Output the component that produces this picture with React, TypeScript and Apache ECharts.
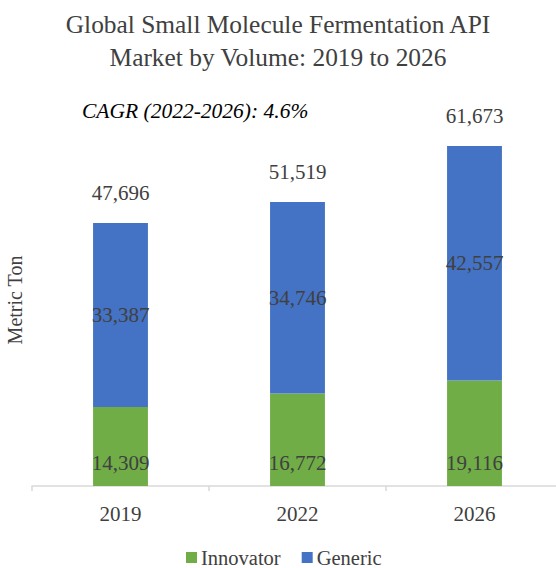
import React, { useEffect, useRef } from "react";
import * as echarts from "echarts";

const years = ["2019", "2022", "2026"];
const innovator = [14309, 16772, 19116];
const generic = [33387, 34746, 42557];
const totals = [47696, 51519, 61673];

const FONT = '"Liberation Serif", "Times New Roman", serif';
const TXT = "#404040";
const fmt = (v: number) => v.toLocaleString("en-US");

export default function App() {
  const ref = useRef<HTMLDivElement>(null);
  useEffect(() => {
    if (!ref.current) return;
    const chart = echarts.init(ref.current, undefined, { renderer: "svg" });
    chart.setOption({
      animation: false,
      backgroundColor: "#ffffff",
      textStyle: { fontFamily: FONT, color: TXT },
      title: {
        text: "Global Small Molecule Fermentation API\nMarket by Volume: 2019 to 2026",
        left: "center",
        top: 7,
        padding: 0,
        textStyle: { fontFamily: FONT, fontSize: 25.4, fontWeight: "normal", color: TXT, lineHeight: 33 },
      },
      graphic: [
        {
          type: "text",
          left: 82,
          top: 100,
          style: { text: "CAGR (2022-2026): 4.6%", font: `italic 21.5px ${FONT}`, fill: "#000000" },
        },
        {
          type: "text",
          x: 15,
          y: 300,
          rotation: Math.PI / 2,
          style: { text: "Metric Ton", font: `20px ${FONT}`, fill: TXT, align: "center", verticalAlign: "middle" },
        },
      ],
      legend: {
        data: ["Innovator", "Generic"],
        left: 186,
        top: 547,
        icon: "rect",
        itemWidth: 11,
        itemHeight: 11,
        itemGap: 21,
        textStyle: { fontFamily: FONT, fontSize: 20.5, lineHeight: 19, color: TXT, padding: [0, 0, 0, -1] },
        padding: 0,
      },
      grid: { left: 32, width: 531, top: 100, bottom: 82, outerBoundsMode: "none", containLabel: false },
      xAxis: {
        type: "category",
        data: years,
        axisLine: { lineStyle: { color: "#d9d9d9", width: 1.5 } },
        axisTick: { show: true, length: 5, lineStyle: { color: "#d9d9d9", width: 1.5 } },
        axisLabel: { fontFamily: FONT, fontSize: 21, color: TXT, margin: 17 },
      },
      yAxis: {
        type: "value",
        min: 0,
        max: 70000,
        axisLine: { show: false },
        axisTick: { show: false },
        axisLabel: { show: false },
        splitLine: { show: false },
      },
      series: [
        {
          name: "Innovator",
          type: "bar",
          stack: "total",
          data: innovator,
          barWidth: "31%",
          itemStyle: { color: "#70AD47" },
          label: {
            show: true,
            position: "insideBottom",
            distance: 13,
            formatter: (p: any) => fmt(p.value),
            fontFamily: FONT,
            fontSize: 21,
            color: TXT,
          },
        },
        {
          name: "Generic",
          type: "bar",
          stack: "total",
          data: generic,
          itemStyle: { color: "#4472C4" },
          label: {
            show: true,
            position: "inside",
            formatter: (p: any) => fmt(p.value),
            fontFamily: FONT,
            fontSize: 21,
            color: TXT,
          },
        },
        {
          name: "Total",
          type: "scatter",
          data: totals,
          symbolSize: 0,
          silent: true,
          itemStyle: { opacity: 1 },
          label: {
            show: true,
            position: "top",
            distance: 19,
            formatter: (p: any) => fmt(p.value),
            fontFamily: FONT,
            fontSize: 21,
            color: TXT,
          },
        },
      ],
    });
    return () => chart.dispose();
  }, []);
  return (
    <div
      ref={ref}
      style={{ position: "fixed", left: 0, top: 0, width: 556, height: 568 }}
    />
  );
}
